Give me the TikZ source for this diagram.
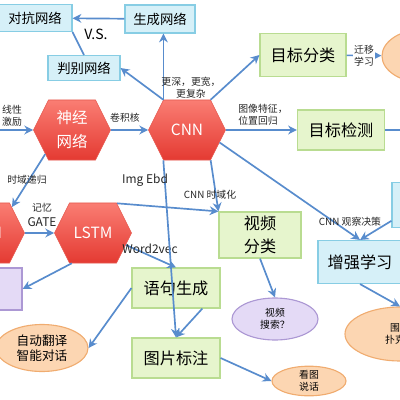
\documentclass[tikz,border=0pt]{standalone}
\usepackage{fontspec}
\setmainfont{Noto Sans CJK SC}
\usetikzlibrary{shapes,arrows.meta,positioning}
\definecolor{arrblue}{RGB}{88,140,205}
\definecolor{cyanfill}{RGB}{214,240,248}
\definecolor{cyandraw}{RGB}{135,205,228}
\definecolor{greenfill}{RGB}{230,245,205}
\definecolor{greendraw}{RGB}{185,220,145}
\definecolor{redtop}{RGB}{250,125,115}
\definecolor{redbot}{RGB}{228,58,50}
\definecolor{reddraw}{RGB}{230,90,80}
\definecolor{orangefill}{RGB}{252,214,178}
\definecolor{orangedraw}{RGB}{240,172,112}
\definecolor{purplefill}{RGB}{228,218,246}
\definecolor{purpledraw}{RGB}{172,152,212}
\newcommand{\bigfont}{\fontsize{11.5}{16}\selectfont}
\newcommand{\midfont}{\fontsize{9.5}{12}\selectfont}
\newcommand{\smallfont}{\fontsize{7}{8.5}\selectfont}

\begin{document}
\begin{tikzpicture}[x=0.025cm, y=-0.025cm,
    netbox/.style={rectangle, draw=cyandraw, fill=cyanfill, line width=0.8pt, inner sep=0pt, align=center, font=\midfont},
    taskbox/.style={rectangle, draw=greendraw, fill=greenfill, line width=0.8pt, inner sep=0pt, align=center, font=\bigfont},
    hexnet/.style={signal, signal to=east and west, signal pointer angle=127, draw=reddraw, top color=redtop, bottom color=redbot,
                 inner sep=0pt, minimum width=1.925cm, minimum height=1.5cm, text=white, align=center, font=\fontsize{11}{17}\selectfont},
    appell/.style={ellipse, draw=orangedraw, fill=orangefill, line width=0.8pt, inner sep=0pt, align=center, font=\smallfont},
    arr/.style={-{Stealth[length=2.2mm,width=2.2mm]}, line width=1.2pt, arrblue},
    lbl/.style={font=\smallfont, text=black!85, inner sep=1pt, align=center},
    tag/.style={lbl, font=\fontsize{8.5}{10}\selectfont}
]
    \useasboundingbox (0,0) rectangle (400,400);
    \clip (0,0) rectangle (400,400);

    % networks
    \node[netbox, minimum width=1.85cm, minimum height=0.675cm] (adv) at (35,18) {对抗网络};
    \node[netbox, minimum width=1.75cm, minimum height=0.7cm] (gen) at (160,19) {生成网络};
    \node[netbox, minimum width=1.8cm, minimum height=0.625cm] (dis) at (84,68) {判别网络};
    \node[font=\fontsize{10}{12}\selectfont] (versus) at (96,34) {V.S.};
    \node[hexnet] (nn) at (72,130) {神经\\网络};
    \node[hexnet] (cnn) at (187,130) {CNN};
    \node[hexnet] (rnn) at (-14,233) {RNN};
    \node[hexnet] (lstm) at (93,233) {LSTM};

    % tasks
    \node[taskbox, minimum width=2.15cm, minimum height=1.075cm] (cls) at (303,55) {目标分类};
    \node[taskbox, minimum width=2.175cm, minimum height=1cm] (det) at (341,130) {目标检测};
    \node[taskbox, minimum width=2.05cm, minimum height=1.15cm] (vid) at (260,235) {视频\\分类};
    \node[taskbox, minimum width=2.2cm, minimum height=1cm] (sen) at (176,288) {语句生成};
    \node[taskbox, minimum width=2.2cm, minimum height=1cm] (cap) at (176,358) {图片标注};
    \node[netbox, font=\bigfont, minimum width=2.1cm, minimum height=1.075cm] (rl) at (360,262) {增强学习};
    \node[netbox, minimum width=1.4cm, minimum height=1.125cm] (rbox) at (420,205) {};
    \node[rectangle, draw=purpledraw, fill=purplefill, line width=0.8pt, minimum width=1.3cm, minimum height=1.05cm] (pbox) at (-4,289) {};

    % applications
    \node[appell, minimum width=2.15cm, minimum height=1.35cm] (tl) at (425,56) {};
    \node[appell, font=\fontsize{9}{11}\selectfont, minimum width=2.3cm, minimum height=1.175cm] (mt) at (42,348) {自动翻译\\智能对话};
    \node[appell, draw=purpledraw, fill=purplefill, minimum width=2.15cm, minimum height=1.05cm] (vsearch) at (275,319) {视频\\搜索？};
    \node[appell, minimum width=1.85cm, minimum height=0.7cm] (kt) at (309,381) {看图\\说话};
    \node[appell, minimum width=2.75cm, minimum height=1.35cm] (go) at (400,334) {围棋\\扑克，};

    \coordinate (nnin) at (-10,130);
    \coordinate (detout) at (410,130);

    % connectors
    \draw[arr] (gen) -- (adv);
    \draw[arr, -] (dis.north) -- (adv.south east);
    \draw[arr] (cnn.128) -- (gen.south -| cnn.128);
    \draw[arr] (cnn.128) -- (dis.east);
    \draw[arr] (cnn.52) -- (cls.west);
    \node[lbl] (deeper) at (191,88) {更深，更宽，\\更复杂};
    \draw[arr] (nnin) -- (nn);
    \node[lbl, align=left] (relu) at (12,116) {线性\\激励};
    \draw[arr] (nn) -- (cnn);
    \node[lbl] (conv) at (125,118) {卷积核};
    \draw[arr] (nn.222) -- (rnn.45);
    \node[lbl] (tdrec) at (27,180) {时域递归};
    \draw[arr] (rnn) -- (lstm);
    \node[lbl] (gate) at (42,208) {记忆};
    \node[tag] (gatetxt) at (42,222) {GATE};
    \draw[arr] (cnn) -- (det);
    \node[lbl, align=left] (feat) at (263,115) {图像特征，\\位置回归};
    \draw[arr] (det) -- (detout);
    \draw[arr] (cls) -- node[lbl, fill=white] {迁移\\学习} (tl);
    \draw[arr] (lstm.51) -- (vid.north west);
    \draw[arr] (cnn.-52) -- (vid.north west);
    \node[lbl] (tdcnn) at (210,195) {CNN 时域化};
    \draw[arr] (cnn.-21) -- (rl.north);
    \draw[arr] (rbox.209) -- (rl.north);
    \node[lbl] (obs) at (350,222) {CNN 观察决策};
    \draw[arr] (rl.south) -- (go.north);
    \draw[arr] (lstm.-20) -- (sen.north);
    \node[tag] (w2v) at (150,249) {Word2vec};
    \draw[arr] (lstm.235) -- (pbox.east);
    \draw[arr] (cnn.232) -- (cap.north);
    \node[tag] (imgebd) at (145,180) {Img Ebd};
    \draw[arr] (sen.-38) -- (cap.north);
    \draw[arr] (sen.west) -- (mt.east);
    \draw[arr] (vid.south) -- (vsearch.north);
    \draw[arr] (cap.east) -- (kt.west);
\end{tikzpicture}
\end{document}
